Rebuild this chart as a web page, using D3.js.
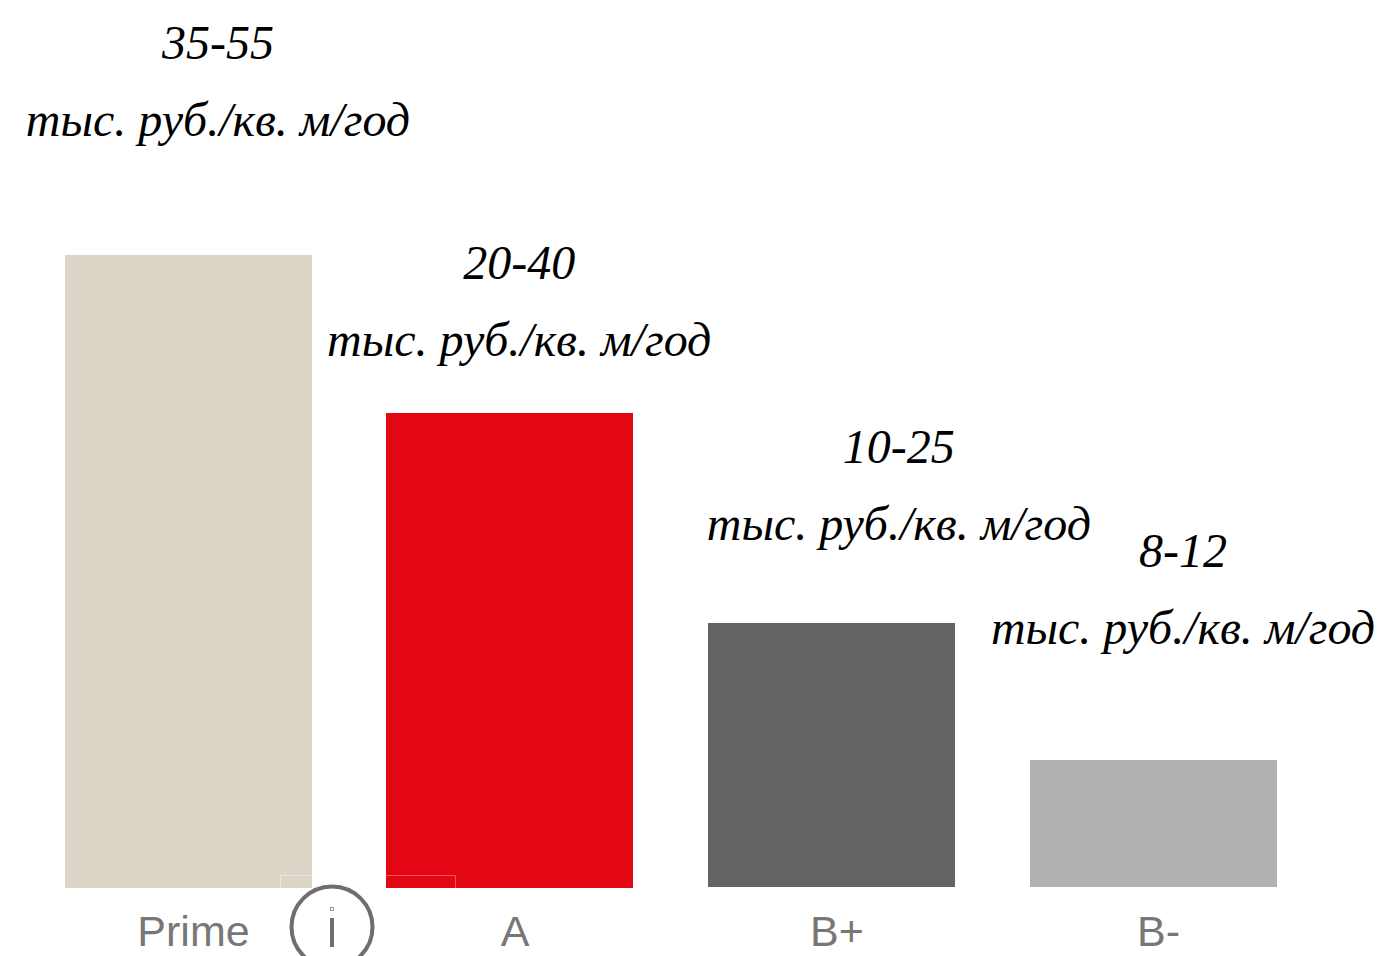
<!DOCTYPE html>
<html>
<head>
<meta charset="utf-8">
<style>
  html, body { margin: 0; background: #fff; overflow: hidden; }
</style>
<script src="https://cdn.jsdelivr.net/npm/d3@7"></script>
</head>
<body>
<svg id="chart" width="1384" height="956"></svg>
<script>
// Данные (высота столбцов в условных единицах, первый столбец = 100)
const categories = ["Prime", "A", "B+", "B-"];
const barValues = [100, 75, 41.8, 20.1];
const rangeLabels = ["35-55", "20-40", "10-25", "8-12"];
const unitLabel = "тыс. руб./кв. м/год";
const barColors = ["#ddd5c7", "#e30613", "#636466", "#b0b1b3"];

// Смещения подписей относительно столбцов
const labelDx = [29.5, 9, 67, 29.5];
const labelDy = [196, 134, 160, 194];

const svg = d3.select("#chart");

const x = d3.scaleBand()
    .domain(categories)
    .range([65, 1277])
    .paddingInner(0.2322)
    .paddingOuter(0);

const y = d3.scaleLinear()
    .domain([0, 100])
    .range([888, 255]);

// Столбцы
svg.selectAll("rect.bar")
    .data(categories)
    .enter()
    .append("rect")
    .attr("class", "bar")
    .attr("x", d => Math.floor(x(d)))
    .attr("y", (d, i) => Math.floor(y(barValues[i])))
    .attr("width", Math.round(x.bandwidth()))
    .attr("height", (d, i) => y(0) - Math.floor(y(barValues[i])) - (i > 1 ? 1 : 0))
    .attr("fill", (d, i) => barColors[i]);

// Тонкие светлые линии внизу столбцов
svg.append("path")
    .attr("d", "M280.5,888V875.5H312")
    .attr("fill", "none")
    .attr("stroke", "#ece7de")
    .attr("stroke-width", 1);
svg.append("path")
    .attr("d", "M386,875.5H455.5V888")
    .attr("fill", "none")
    .attr("stroke", "#ee5560")
    .attr("stroke-width", 1);

// Ось X
const axis = svg.append("g")
    .attr("transform", "translate(5,888)")
    .call(d3.axisBottom(x).tickSize(0).tickPadding(0));
axis.select(".domain").remove();
axis.selectAll("text")
    .attr("y", 58)
    .attr("dy", 0)
    .attr("fill", "#777777")
    .style("font-family", "'Liberation Sans', Arial, sans-serif")
    .style("font-size", "43px");

// Подписи диапазонов
const labels = svg.selectAll("g.label")
    .data(categories)
    .enter()
    .append("g")
    .attr("class", "label")
    .attr("transform", (d, i) =>
        `translate(${x(d) + x.bandwidth() / 2 + labelDx[i]},${y(barValues[i]) - labelDy[i]})`)
    .attr("text-anchor", "middle")
    .style("font-family", "'Liberation Serif', 'Times New Roman', serif")
    .style("font-style", "italic")
    .style("font-size", "48px")
    .attr("fill", "#000");

labels.append("text")
    .text((d, i) => rangeLabels[i]);

labels.append("text")
    .attr("y", 77)
    .text(unitLabel);

// Значок "i"
const info = svg.append("g").attr("transform", "translate(332,927)");
info.append("circle")
    .attr("r", 40.5)
    .attr("fill", "none")
    .attr("stroke", "#6e6e6e")
    .attr("stroke-width", 4);
info.append("rect")
    .attr("x", -2)
    .attr("y", -9)
    .attr("width", 4)
    .attr("height", 29)
    .attr("fill", "#6e6e6e");
info.append("rect")
    .attr("x", -1.5)
    .attr("y", -19.5)
    .attr("width", 3)
    .attr("height", 3)
    .attr("fill", "none")
    .attr("stroke", "#6e6e6e")
    .attr("stroke-width", 0.7);
</script>
</body>
</html>
